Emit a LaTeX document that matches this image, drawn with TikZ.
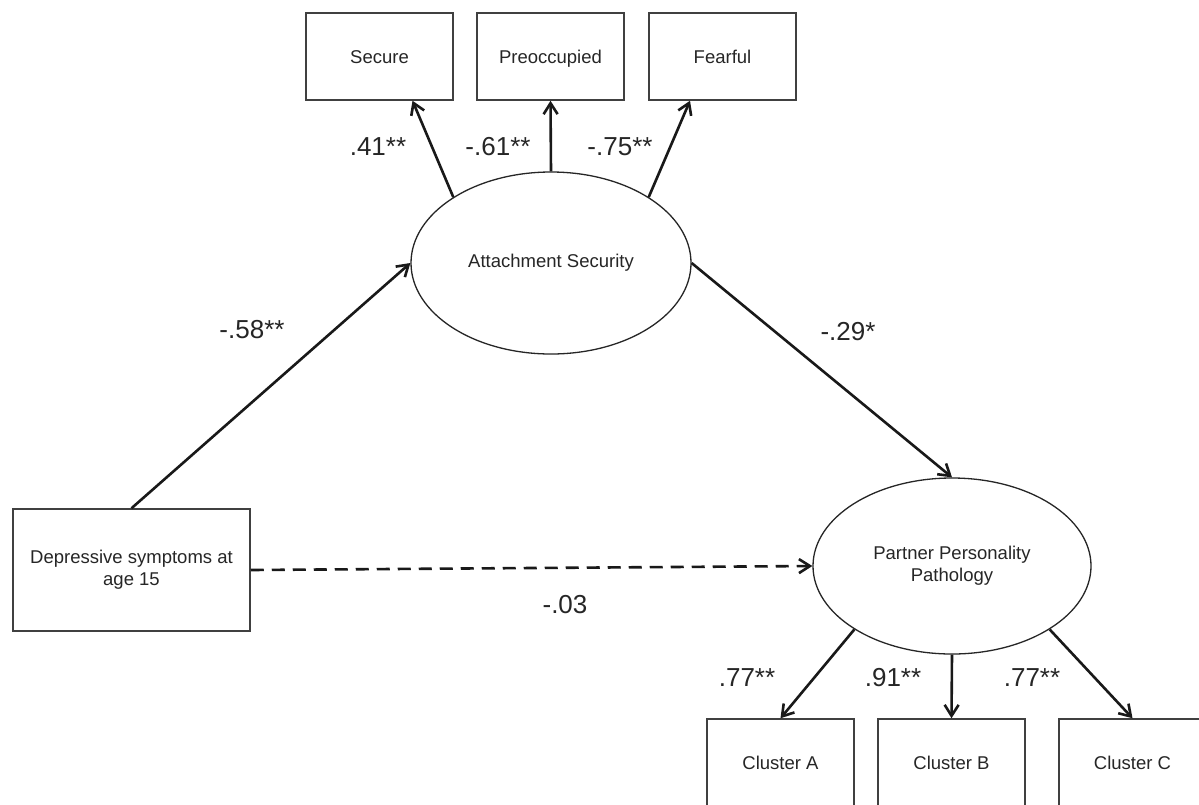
\documentclass[tikz,border=0pt]{standalone}
\usepackage{fontspec}
\setmainfont{Liberation Sans}
\usetikzlibrary{arrows.meta,shapes.geometric,calc}
\begin{document}
\begin{tikzpicture}[x=0.5pt,y=-0.5pt,
  box/.style={draw=black!75, line width=0.75pt, minimum width=73.5pt, minimum height=43.5pt,
    inner sep=0pt, align=center, font=\fontsize{9.25pt}{11pt}\selectfont, text=black!85, fill=white},
  single/.style={box, text height=0.72em, text depth=0pt},
  lat/.style={ellipse, draw=black!85, line width=0.65pt, inner sep=0pt, align=center,
    font=\fontsize{9.25pt}{11pt}\selectfont, text=black!85, fill=white},
  pathar/.style={line width=1.3pt, draw=black!90, -{Straight Barb[length=5.5pt,width=7pt]}},
  coef/.style={font=\fontsize{13pt}{15pt}\selectfont, text=black!85, inner sep=0pt}]
\useasboundingbox (0,0) rectangle (1199,804);
\fill[white] (0,0) rectangle (1199,804);
% indicators of attachment security
\node[single] (sec) at (379.5,56.5) {Secure};
\node[single] (pre) at (550.5,56.5) {Preoccupied};
\node[single] (fea) at (722.5,56.5) {Fearful};
% latent variables
\node[lat, minimum width=140pt, minimum height=91pt] (as) at (551,263) {Attachment Security};
\node[lat, minimum width=139pt, minimum height=88pt] (ppp) at (952,566) {Partner Personality\\Pathology};
% predictor
\node[box, minimum width=118.5pt, minimum height=61pt] (dep) at (131.5,570) {Depressive symptoms at\\age 15};
% indicators of partner personality pathology
\node[single] (ca) at (780.5,762.5) {Cluster A};
\node[single] (cb) at (951.5,762.5) {Cluster B};
\node[single] (cc) at (1132.5,762.5) {Cluster C};
% paths
\draw[pathar] (as.146) -- ($(sec.south)+(33,0)$);
\draw[pathar] (as.north) -- (pre.south);
\draw[pathar] (as.34) -- ($(fea.south)+(-32.5,0)$);
\draw[pathar] (dep.north) -- (as.west);
\draw[pathar] (as.east) -- (ppp.north);
\draw[pathar, dash pattern=on 6.5pt off 4pt] (dep.east) -- (ppp.west);
\draw[pathar] (ppp.213) -- (ca.north);
\draw[pathar] (ppp.south) -- (cb.north);
\draw[pathar] (ppp.-33) -- (cc.north);
% coefficients
\node[coef] (c1) at (378,147) {.41**};
\node[coef] (c2) at (498,147) {-.61**};
\node[coef] (c3) at (620,147) {-.75**};
\node[coef] (c4) at (252,330) {-.58**};
\node[coef] (c5) at (848,332) {-.29*};
\node[coef] (c6) at (565,605) {-.03};
\node[coef] (c7) at (747,678) {.77**};
\node[coef] (c8) at (893,678) {.91**};
\node[coef] (c9) at (1032,678) {.77**};
\end{tikzpicture}
\end{document}
